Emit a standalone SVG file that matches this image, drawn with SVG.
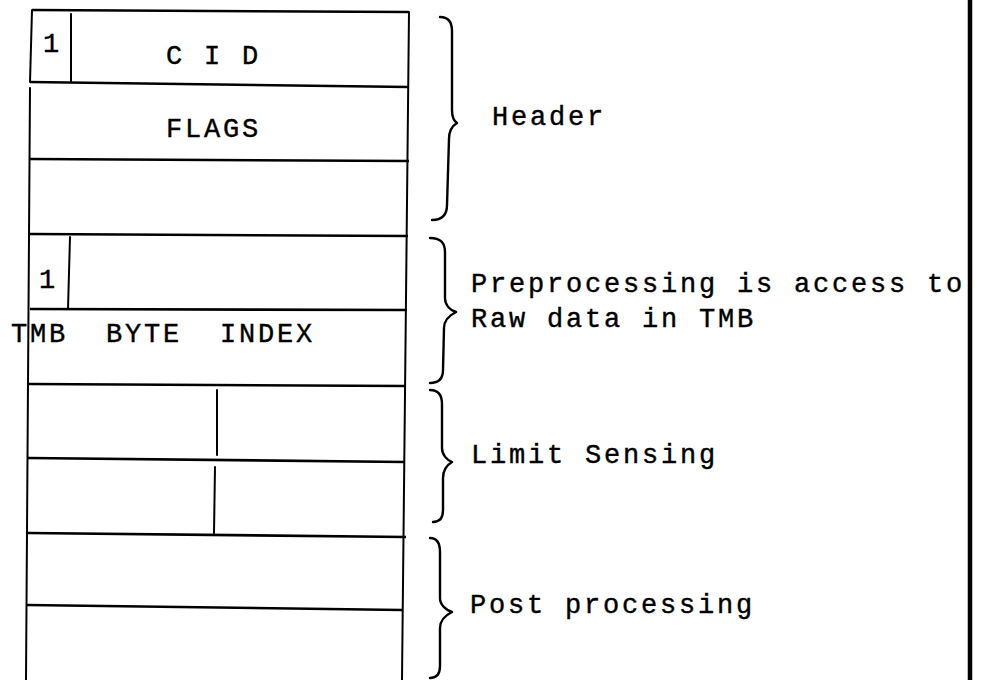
<svg xmlns="http://www.w3.org/2000/svg" width="984" height="680" viewBox="0 0 984 680">
<style>
.ln{stroke:#000;stroke-width:2;fill:none;stroke-linecap:round}
.hl{stroke:#000;stroke-width:2.6;fill:none}
.br{stroke:#000;stroke-width:2.4;fill:none;stroke-linecap:round;stroke-linejoin:round}
.t{font-family:"Liberation Mono","Courier New",monospace;font-size:27px;letter-spacing:2.8px;fill:#000;stroke:#000;stroke-width:0.4}
</style>
<rect width="984" height="680" fill="#fff"/>
<g id="record">
<path class="hl" d="M32,10 L409,12"/>
<path class="ln" d="M32,10 L30,82"/>
<path class="ln" d="M30,88 L26,680"/>
<path class="ln" d="M409,12 L402,680"/>
<path class="ln" d="M71,14 L71,82"/>
<path class="hl" d="M30,82 L409,87"/>
<path class="hl" d="M30,159 L409,161"/>
<path class="hl" d="M30,234 L408,236"/>
<path class="ln" d="M70,237 L68,309"/>
<path class="hl" d="M30,309 L407,310"/>
<path class="hl" d="M29,384 L406,386"/>
<path class="ln" d="M217,390 L217,455"/>
<path class="hl" d="M28,458 L405,462"/>
<path class="ln" d="M215,467 L214,533"/>
<path class="hl" d="M28,533 L406,537"/>
<path class="hl" d="M27,605 L402,610"/>
</g>
<g id="fields">
<text class="t" x="43" y="52">1</text>
<text class="t" x="166" y="64">C I D</text>
<text class="t" x="166" y="137">FLAGS</text>
<text class="t" x="39" y="288">1</text>
<text class="t" x="11" y="342" xml:space="preserve">TMB  BYTE  INDEX</text>
</g>
<g id="connectors">
<path class="br" d="M440,17 C448,17 452,21 452,31 L452,110 C452,117 454,121 457,123 C452,126 449,131 449,139 L447,205 C447,215 442,220 432,220"/>
<path class="br" d="M430,238 C440,238 445,242 445,252 L445,298 C445,305 450,310 456,312 C450,315 444,320 444,328 L443,370 C443,379 438,383 430,383"/>
<path class="br" d="M430,390 C438,390 442,394 442,404 L442,448 C442,455 447,460 452,462 C447,465 443,470 443,478 L443,510 C443,518 440,522 433,522"/>
<path class="br" d="M430,538 C436,538 440,542 440,552 L440,598 C440,605 446,610 452,612 C446,615 440,620 440,628 L440,666 C440,674 437,678 430,678"/>
</g>
<g id="labels">
<text class="t" x="492" y="125">Header</text>
<text class="t" x="471" y="292">Preprocessing is access to</text>
<text class="t" x="471" y="327">Raw data in TMB</text>
<text class="t" x="471" y="463">Limit Sensing</text>
<text class="t" x="470" y="613">Post processing</text>
</g>
<path id="edge" d="M970,0 L970,680" stroke="#000" stroke-width="4.5"/>
</svg>
